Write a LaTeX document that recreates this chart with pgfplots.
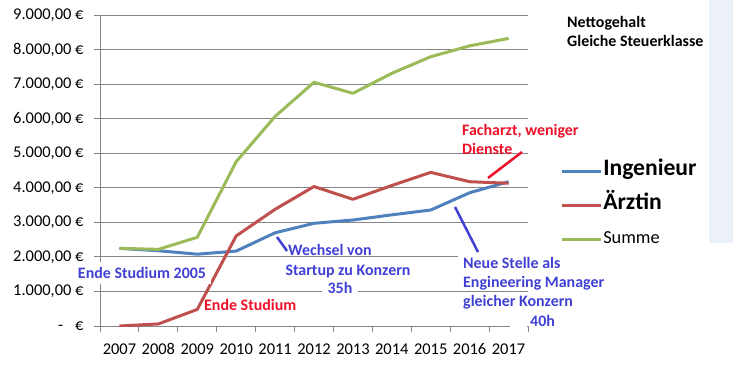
\documentclass[border=0pt]{standalone}
\usepackage{pgfplots}
\pgfplotsset{compat=1.18}
\usepackage{fontspec}
\setmainfont{Carlito}
\definecolor{ing}{RGB}{79,129,189}
\definecolor{arz}{RGB}{192,80,77}
\definecolor{sumc}{RGB}{155,187,89}
\definecolor{grd}{RGB}{134,134,134}
\definecolor{annb}{RGB}{64,64,212}
\definecolor{annr}{RGB}{238,16,40}
\definecolor{panel}{RGB}{235,240,249}
\newcommand{\sx}{\fontsize{16}{19}\selectfont}
\begin{document}
\begin{tikzpicture}[x=1bp,y=1bp]
\useasboundingbox (0,0) rectangle (733,384);
\fill[panel] (709,141) rectangle (733,384);
\begin{axis}[
  at={(100bp,58bp)}, anchor=south west,
  scale only axis, width=428bp, height=310.7bp,
  xmin=-0.5, xmax=10.5, ymin=0, ymax=9000,
  axis lines*=left,
  axis line style={grd, line width=1bp},
  ymajorgrids, grid style={grd, line width=1bp},
  tick style={grd, line width=1bp},
  tick align=outside,
  major tick length=6bp, minor tick length=6bp,
  ytick={0,1000,...,9000},
  yticklabels={{-\hspace{12bp}€},{1.000,00 €},{2.000,00 €},{3.000,00 €},{4.000,00 €},{5.000,00 €},{6.000,00 €},{7.000,00 €},{8.000,00 €},{9.000,00 €}},
  xtick={0,...,10},
  xticklabels={2007,2008,2009,2010,2011,2012,2013,2014,2015,2016,2017},
  minor xtick={-0.5,0.5,...,10.5},
  major x tick style={draw=none},
  ticklabel style={font=\fontsize{16.5}{19}\selectfont, text=black},
  yticklabel style={anchor=east, xshift=-7bp},
  xticklabel style={anchor=north, yshift=-8bp},
  every axis plot/.append style={line width=3bp, line join=round},
  legend style={at={(1.068,0.53)}, anchor=north west, draw=none, fill=none,
    row sep=19bp, column sep=0bp,
    nodes={inner sep=0pt, text height=12bp, text depth=3bp}},
  legend cell align=left,
  legend image code/.code={\draw[#1] (0bp,0bp) -- (39bp,0bp);},
]
\addplot[ing] coordinates {(0,2250) (1,2180) (2,2080) (3,2170) (4,2700) (5,2975) (6,3070) (7,3220) (8,3360) (9,3860) (10,4180)};
\addlegendentry{\hspace{1bp}\fontsize{23.7}{28}\selectfont\bfseries Ingenieur}
\addplot[arz] coordinates {(0,0) (1,60) (2,480) (3,2610) (4,3380) (5,4040) (6,3670) (7,4070) (8,4450) (9,4180) (10,4135)};
\addlegendentry{\hspace{1bp}\fontsize{23.7}{28}\selectfont\bfseries Ärztin}
\addplot[sumc] coordinates {(0,2250) (1,2220) (2,2570) (3,4760) (4,6070) (5,7060) (6,6740) (7,7320) (8,7800) (9,8115) (10,8330)};
\addlegendentry{\hspace{1bp}\fontsize{18.4}{22}\selectfont Summe}
\end{axis}
% annotations
\begin{scope}[every node/.style={font=\sx\bfseries, inner sep=0pt}]
\node[fill=white, inner xsep=5bp, inner ysep=5bp, text=annb] at (142,111) {Ende Studium 2005};
\node[text=annr, anchor=base west] at (204,74) {Ende Studium};
\node[text=annb, anchor=base west] at (288,129) {Wechsel von};
\node[fill=white, inner xsep=7bp, inner ysep=3bp, text=annb, anchor=base] at (348,109) {Startup zu Konzern};
\node[fill=white, inner xsep=6bp, inner ysep=3bp, text=annb, anchor=base] at (340,91) {35h};
\node[fill=white, inner xsep=5bp, inner ysep=3bp, text=annb, anchor=base west] at (458,116) {Neue Stelle als};
\node[text=annb, anchor=base west] at (463,97) {Engineering Manager};
\node[text=annb, anchor=base west] at (463,78) {gleicher Konzern};
\fill[white] (510,55) rectangle (527,62);
\node[text=annb, anchor=base west] at (530,58) {40h};
\node[text=annr, anchor=base west] at (462,249) {Facharzt, weniger};
\node[text=annr, anchor=base west] at (462,230) {Dienste};
\node[text=black, anchor=base west] at (567,357) {Nettogehalt};
\node[text=black, anchor=base west] at (567,338) {Gleiche Steuerklasse};
\end{scope}
\draw[annb, line width=2.5bp] (277,147) -- (287,133);
\draw[annb, line width=2.5bp] (455,177) -- (478,132);
\draw[annr, line width=2.5bp] (488,206) -- (522,232);
\end{tikzpicture}
\end{document}
